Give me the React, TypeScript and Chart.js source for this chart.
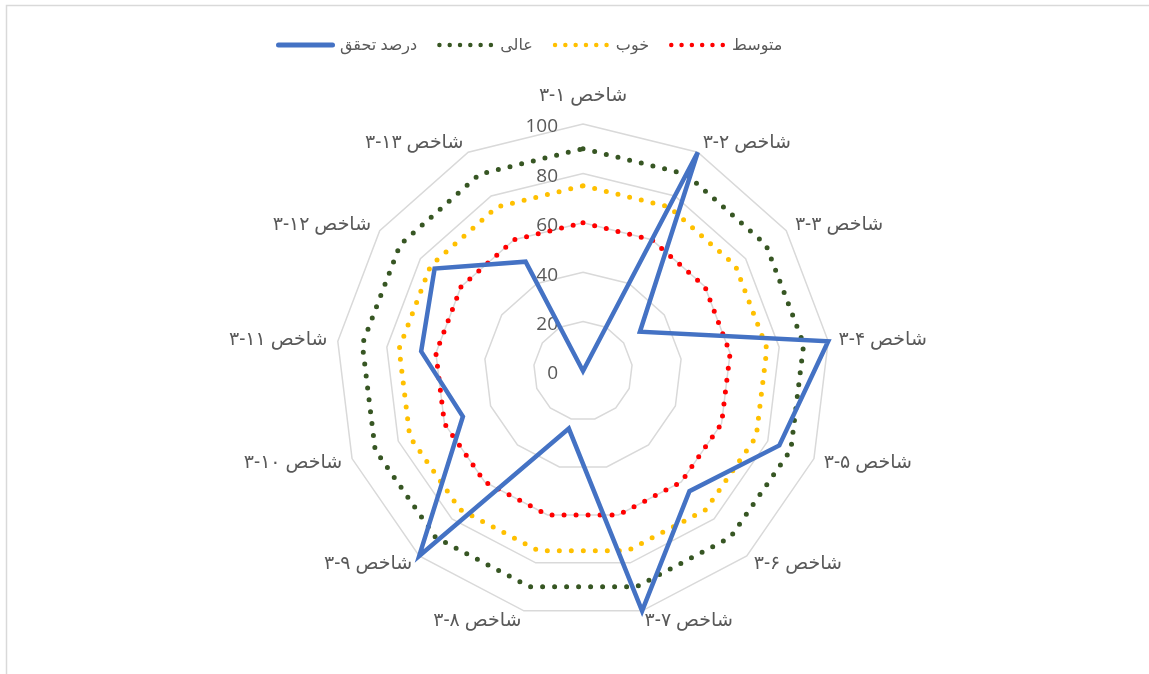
import { useEffect, useRef } from "react";
import { Chart, registerables } from "chart.js";

Chart.register(...registerables);

const categories = [
  "شاخص ۱-۳",
  "شاخص ۲-۳",
  "شاخص ۳-۳",
  "شاخص ۴-۳",
  "شاخص ۵-۳",
  "شاخص ۶-۳",
  "شاخص ۷-۳",
  "شاخص ۸-۳",
  "شاخص ۹-۳",
  "شاخص ۱۰-۳",
  "شاخص ۱۱-۳",
  "شاخص ۱۲-۳",
  "شاخص ۱۳-۳",
];

const achievement = [0, 100, 28, 100, 85, 65, 100, 24, 100, 52, 66, 73, 50];
const excellent = [90, 90, 90, 90, 90, 90, 90, 90, 90, 90, 90, 90, 90];
const good = [75, 75, 75, 75, 75, 75, 75, 75, 75, 75, 75, 75, 75];
const medium = [60, 60, 60, 60, 60, 60, 60, 60, 60, 60, 60, 60, 60];

const seriesNames = ["درصد تحقق", "عالی", "خوب", "متوسط"];
const seriesColors = ["#4472C4", "#375623", "#FFC000", "#FF0000"];
const tickValues = ["0", "20", "40", "60", "80", "100"];

const TEXT_COLOR = "#595959";
const GRID_COLOR = "#d9d9d9";
const LEGEND_FONT = "16px 'Noto Sans', 'DejaVu Sans', sans-serif";
const LABEL_FONT = "19px 'Noto Sans', 'DejaVu Sans', sans-serif";
const TICK_FONT = "19px 'Open Sans', sans-serif";

const decorPlugin = {
  id: "decor",
  beforeDraw(chart: any) {
    const ctx = chart.ctx;
    ctx.save();
    ctx.strokeStyle = GRID_COLOR;
    ctx.lineWidth = 1.5;
    ctx.strokeRect(6.5, 5.5, chart.width + 50, chart.height + 50);
    ctx.restore();
  },
  beforeDatasetsDraw(chart: any) {
    const ctx = chart.ctx;
    const scale = chart.scales.r;
    ctx.save();
    // tick labels
    ctx.font = TICK_FONT;
    ctx.fillStyle = TEXT_COLOR;
    ctx.textAlign = "right";
    ctx.textBaseline = "middle";
    scale.ticks.forEach((t: any, i: number) => {
      const d = scale.getDistanceFromCenterForValue(t.value);
      ctx.fillText(tickValues[i] ?? String(t.value), scale.xCenter - 25, scale.yCenter - d + 3);
    });
    // point labels
    ctx.font = LABEL_FONT;
    ctx.textBaseline = "middle";
    const labels = chart.data.labels as string[];
    labels.forEach((lbl, i) => {
      const p = scale.getPointPosition(i, scale.drawingArea + 10.5);
      const dx = p.x - scale.xCenter;
      let y = p.y;
      if (Math.abs(dx) < 1) {
        ctx.textAlign = "center";
        y = p.y - 17.5;
      } else if (dx > 0) {
        ctx.textAlign = "left";
      } else {
        ctx.textAlign = "right";
      }
      ctx.fillText(lbl, p.x, y);
    });
    ctx.restore();
  },
  afterDraw(chart: any) {
    const ctx = chart.ctx;
    ctx.save();
    ctx.font = LEGEND_FONT;
    ctx.textBaseline = "middle";
    ctx.textAlign = "left";
    const y = 45;
    let x = 276;
    chart.data.datasets.forEach((ds: any, i: number) => {
      ctx.save();
      ctx.strokeStyle = ds.borderColor;
      ctx.lineCap = "round";
      let boxW: number;
      if (i === 0) {
        ctx.lineWidth = 5;
        ctx.setLineDash([]);
        ctx.beginPath();
        ctx.moveTo(x + 2.5, y);
        ctx.lineTo(x + 56.5, y);
        ctx.stroke();
        boxW = 59;
        x += boxW + 5;
      } else {
        ctx.lineWidth = 4.5;
        ctx.setLineDash([0, 10.3]);
        ctx.beginPath();
        ctx.moveTo(x + 2.2, y);
        ctx.lineTo(x + 2.2 + 51.6, y);
        ctx.stroke();
        boxW = 55;
        x += boxW + 8;
      }
      ctx.restore();
      ctx.fillStyle = TEXT_COLOR;
      ctx.fillText(ds.label, x, y);
      x += ctx.measureText(ds.label).width + 20;
    });
    ctx.restore();
  },
};

export default function App() {
  const canvasRef = useRef<HTMLCanvasElement | null>(null);

  useEffect(() => {
    document.body.style.margin = "0";
    const canvas = canvasRef.current;
    if (!canvas) return;
    const dotted = (label: string, data: number[], color: string) => ({
      label,
      data,
      borderColor: color,
      backgroundColor: color,
      borderWidth: 5,
      borderDash: [0, 12],
      borderCapStyle: "round" as const,
      pointRadius: 0,
      pointHoverRadius: 0,
      fill: false,
    });
    const chart = new Chart(canvas, {
      type: "radar",
      data: {
        labels: categories,
        datasets: [
          {
            label: seriesNames[0],
            data: achievement,
            borderColor: seriesColors[0],
            backgroundColor: seriesColors[0],
            borderWidth: 4.5,
            borderJoinStyle: "miter",
            pointRadius: 0,
            pointHoverRadius: 0,
            fill: false,
          },
          dotted(seriesNames[1], excellent, seriesColors[1]),
          dotted(seriesNames[2], good, seriesColors[2]),
          dotted(seriesNames[3], medium, seriesColors[3]),
        ],
      },
      options: {
        responsive: false,
        animation: false,
        devicePixelRatio: 1,
        layout: { padding: { left: 336, right: 319, top: 124, bottom: 56 } },
        plugins: {
          legend: { display: false },
          tooltip: { enabled: false },
        },
        elements: { line: { tension: 0 } },
        scales: {
          r: {
            min: 0,
            max: 100,
            ticks: { stepSize: 20, display: false },
            grid: { color: GRID_COLOR, lineWidth: 1.5 },
            angleLines: { display: false },
            pointLabels: { display: false },
          },
        },
      },
      plugins: [decorPlugin],
    });
    return () => chart.destroy();
  }, []);

  return (
    <div style={{ width: 1149, height: 674, background: "#ffffff" }}>
      <canvas ref={canvasRef} width={1149} height={674} />
    </div>
  );
}
